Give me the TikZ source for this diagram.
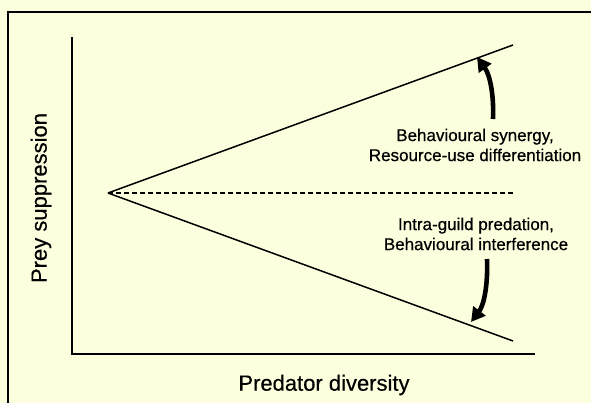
\documentclass[tikz,border=0pt]{standalone}
\usepackage{fontspec}
\setmainfont{Liberation Sans}
\newfontfamily\annotfont[FakeBold=0.6]{Liberation Sans}
\newfontfamily\labelfont[FakeBold=0.4]{Liberation Sans}
\usetikzlibrary{arrows.meta}
\definecolor{bgpale}{RGB}{252,254,222}
\tikzset{
  axisline/.style={line width=2pt, line cap=rect},
  trendline/.style={line width=1.5pt},
  refline/.style={line width=1.5pt, dash pattern=on 5pt off 3pt},
  curvearrow/.style={line width=4.6pt, -{Triangle[length=14pt,width=15pt]}},
  axislabel/.style={font=\labelfont\fontsize{22}{26}\selectfont, inner sep=0pt},
  annot/.style={font=\annotfont\fontsize{17}{20}\selectfont, align=center, inner sep=0pt},
}
\begin{document}
\begin{tikzpicture}[x=1pt,y=-1pt]
\useasboundingbox (0,0) rectangle (591,403);
\fill[bgpale] (0,0) rectangle (591,403);
\begin{scope}
\clip (0,0) rectangle (591,403);
\draw[line width=2pt] (8,12) rectangle (620,430);
\end{scope}
% axes
\coordinate (ytop) at (72,38);
\coordinate (corner) at (72,354);
\coordinate (xend) at (534,354);
\draw[axisline] (ytop) -- (corner) -- (xend);
% trend lines
\coordinate (origin) at (108,193);
\coordinate (upend) at (513,45);
\coordinate (lowend) at (513,341);
\coordinate (midend) at (513,193);
\draw[trendline] (origin) -- (upend);
\draw[trendline] (origin) -- (lowend);
\draw[refline] (origin) -- (midend);
% labels
\node[axislabel] (xlab) at (324,385) {Predator diversity};
\node[axislabel, rotate=90] (ylab) at (41,198) {Prey suppression};
\node[annot] (uptext) at (475,145) {Behavioural synergy,\\Resource-use differentiation};
\node[annot] (lowtext) at (476,234) {Intra-guild predation,\\Behavioural interference};
% arrows
\coordinate (upstart) at (493,119);
\coordinate (uptip) at (477,57);
\draw[curvearrow] (upstart) .. controls (494,95) and (490,75) .. (uptip);
\coordinate (lowstart) at (487,259);
\coordinate (lowtip) at (471,322);
\draw[curvearrow] (lowstart) .. controls (488,285) and (484,305) .. (lowtip);
\end{tikzpicture}
\end{document}
